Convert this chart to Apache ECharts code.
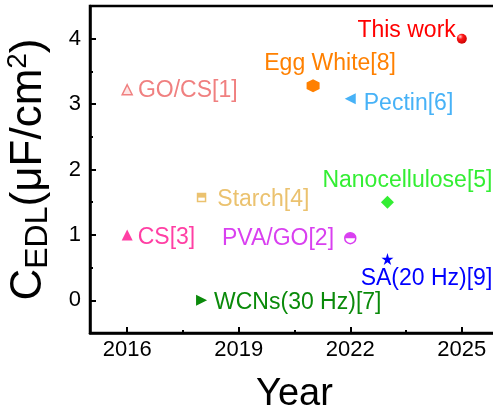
<!DOCTYPE html>
<html>
<head>
<meta charset="utf-8">
<script src="https://cdn.jsdelivr.net/npm/echarts@6/dist/echarts.min.js"></script>
<style>
  html, body { margin: 0; padding: 0; background: #fff; }
  #chart { width: 493px; height: 412px; }
</style>
</head>
<body>
<div id="chart"></div>
<script>
// Reported EDL capacitance of electrolyte materials by year
const materials = ['GO/CS[1]', 'PVA/GO[2]', 'CS[3]', 'Starch[4]', 'Nanocellulose[5]',
                   'Pectin[6]', 'WCNs(30 Hz)[7]', 'Egg White[8]', 'SA(20 Hz)[9]', 'This work'];
const years = [2016, 2022, 2016, 2018, 2023, 2022, 2018, 2021, 2023, 2025];
const cedl = [3.22, 0.95, 1.0, 1.57, 1.5, 3.08, 0.0, 3.28, 0.63, 4.0];

const xMajorTicks = [2016, 2019, 2022, 2025];
const xMinorTicks = [2017.5, 2020.5, 2023.5];
const yMajorTicks = [0, 1, 2, 3, 4];
const yMinorTicks = [0.5, 1.5, 2.5, 3.5];

const FONT = "'Liberation Sans', Arial, sans-serif";

const hexagon = 'path://M0,-1 L0.866,-0.5 L0.866,0.5 L0,1 L-0.866,0.5 L-0.866,-0.5 Z';
const star = 'path://M0,-1 L0.2245,-0.309 L0.951,-0.309 L0.3633,0.118 L0.5878,0.809 L0,0.382 L-0.5878,0.809 L-0.3633,0.118 L-0.951,-0.309 L-0.2245,-0.309 Z';
const halfDisk = 'path://M-1,0 A1,1 0 0 1 1,0 Z';

const sphere = new echarts.graphic.RadialGradient(0.35, 0.3, 0.75, [
  { offset: 0, color: '#ffc8c8' },
  { offset: 0.35, color: '#ff1a1a' },
  { offset: 1, color: '#c80000' }
]);

// Marker look and label placement for each material (same order as above)
const looks = [
  { symbol: 'triangle', size: 10, color: '#fde6e6', border: '#f08080', text: '#f08080',
    label: { position: 'right', distance: 5, offset: [0, 1] } },
  { symbol: 'circle', size: 11, color: '#ffffff', border: '#d940f0', text: '#d940f0',
    half: { symbol: halfDisk, size: [11, 5.5], offset: [0, -2.75] },
    label: { position: 'left', distance: 10, offset: [0, 0] } },
  { symbol: 'triangle', size: 11, color: '#ff3fa4', text: '#ff3fa4',
    label: { position: 'right', distance: 5, offset: [0, 3] } },
  { symbol: 'rect', size: 8, color: '#ffffff', border: '#ebc26f', text: '#ebc26f',
    half: { symbol: 'rect', size: [8, 4], offset: [0, -2] },
    label: { position: 'right', distance: 11, offset: [0, 2] } },
  { symbol: 'diamond', size: 13, color: '#33ee33', text: '#33ee33',
    label: { position: 'inside', offset: [20, -22] } },
  { symbol: 'triangle', size: 11, rotate: 90, color: '#47b2f7', text: '#47b2f7',
    label: { position: 'right', distance: 8, offset: [0, 5] } },
  { symbol: 'triangle', size: 11, rotate: -90, color: '#0a8a0a', text: '#0a8a0a',
    label: { position: 'right', distance: 7, offset: [0, 2] } },
  { symbol: hexagon, size: 13, color: '#ff8000', text: '#ff8000',
    label: { position: 'inside', offset: [17, -22] } },
  { symbol: star, size: 12, color: '#0000ff', text: '#0000ff',
    label: { position: 'inside', offset: [39, 20] } },
  { symbol: 'circle', size: 10, color: sphere, text: '#ff0000',
    label: { position: 'left', distance: 1, offset: [0, -8] } }
];

const series = [];
materials.forEach((name, i) => {
  const lk = looks[i];
  series.push({
    type: 'scatter',
    name: name,
    xAxisIndex: 0,
    yAxisIndex: 0,
    symbol: lk.symbol,
    symbolSize: lk.size,
    symbolRotate: lk.rotate || 0,
    itemStyle: {
      color: lk.color,
      borderColor: lk.border || lk.color,
      borderWidth: lk.border ? 1.5 : 0,
      opacity: 1
    },
    label: Object.assign({
      show: true,
      formatter: name,
      color: lk.text,
      fontFamily: FONT,
      fontSize: 23
    }, lk.label),
    emphasis: { disabled: true },
    z: 3,
    data: [[years[i], cedl[i]]]
  });
  if (lk.half) {
    series.push({
      type: 'scatter',
      xAxisIndex: 0,
      yAxisIndex: 0,
      symbol: lk.half.symbol,
      symbolSize: lk.half.size,
      symbolOffset: lk.half.offset,
      itemStyle: { color: lk.border, opacity: 1 },
      emphasis: { disabled: true },
      silent: true,
      z: 4,
      data: [[years[i], cedl[i]]]
    });
  }
});

const axisLineStyle = { color: '#000', width: 2.5 };
const plain = v => String(v);

const chart = echarts.init(document.getElementById('chart'), null, { renderer: 'canvas' });
chart.setOption({
  animation: false,
  backgroundColor: '#fff',
  grid: {
    left: 90, top: 6, right: -6, bottom: 79,
    outerBoundsMode: 'none', containLabel: false,
    show: true, borderColor: '#000', borderWidth: 2.5, backgroundColor: 'transparent'
  },
  xAxis: [
    {
      type: 'value', min: 2015, max: 2026, position: 'bottom',
      name: 'Year', nameLocation: 'middle', nameGap: 43,
      nameTextStyle: { fontFamily: FONT, fontSize: 38, color: '#000' },
      splitLine: { show: false },
      axisLine: { show: true, onZero: false, lineStyle: axisLineStyle },
      axisTick: { show: true, inside: true, length: 6, lineStyle: { color: '#000', width: 2 }, customValues: xMajorTicks },
      axisLabel: { show: true, margin: 6, fontFamily: FONT, fontSize: 22, color: '#000', formatter: plain, customValues: xMajorTicks }
    },
    {
      type: 'value', min: 2015, max: 2026, position: 'bottom',
      splitLine: { show: false },
      axisLine: { show: false, onZero: false },
      axisTick: { show: true, inside: true, length: 3, lineStyle: { color: '#000', width: 2 }, customValues: xMinorTicks },
      axisLabel: { show: false }
    }
  ],
  yAxis: [
    {
      type: 'value', min: -0.5, max: 4.5, position: 'left',
      name: '{m|C}{s|EDL}{m|(μF/cm}{p|2}{m|)}',
      nameLocation: 'middle', nameRotate: 90, nameGap: 36,
      nameTextStyle: {
        fontFamily: FONT, color: '#000',
        rich: {
          m: { fontFamily: FONT, fontSize: 44, lineHeight: 50, color: '#000', verticalAlign: 'middle' },
          s: { fontFamily: FONT, fontSize: 32, lineHeight: 18, color: '#000', verticalAlign: 'bottom' },
          p: { fontFamily: FONT, fontSize: 28, lineHeight: 18, color: '#000', verticalAlign: 'top' }
        }
      },
      splitLine: { show: false },
      axisLine: { show: true, onZero: false, lineStyle: axisLineStyle },
      axisTick: { show: true, inside: true, length: 6, lineStyle: { color: '#000', width: 2 }, customValues: yMajorTicks },
      axisLabel: { show: true, margin: 9, fontFamily: FONT, fontSize: 22, color: '#000', formatter: plain, customValues: yMajorTicks }
    },
    {
      type: 'value', min: -0.5, max: 4.5, position: 'left',
      splitLine: { show: false },
      axisLine: { show: false, onZero: false },
      axisTick: { show: true, inside: true, length: 3, lineStyle: { color: '#000', width: 2 }, customValues: yMinorTicks },
      axisLabel: { show: false }
    }
  ],
  series: series
});
</script>
</body>
</html>
